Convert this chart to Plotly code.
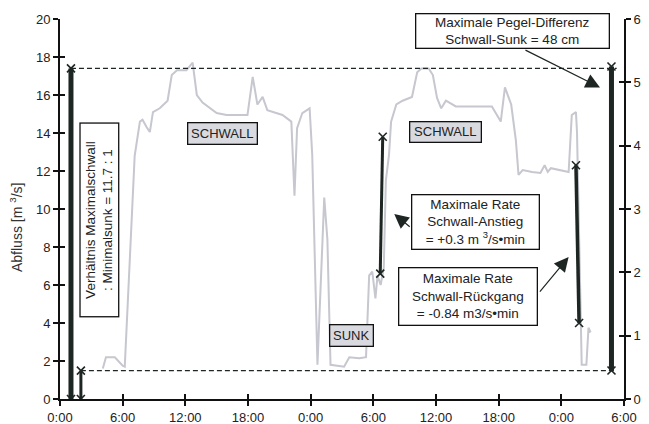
import plotly.graph_objects as go

# ---- data (hours since start, discharge m3/s) ----
hours = [4.1, 4.4, 5.25, 6.0, 6.2, 6.4, 6.9, 7.15, 7.65, 7.9, 8.3, 8.6, 8.9, 9.55, 10.3,
         10.7, 11.2, 12.1, 12.7, 13.1, 13.65, 15.0, 15.95, 17.95, 18.45, 18.9, 19.4, 19.85,
         21.3, 22.15, 22.45, 22.7, 23.2, 23.9, 24.15, 24.65, 25.3, 25.6, 25.9, 27.2, 27.7,
         28.65, 29.3, 29.6, 29.9, 30.2, 30.4, 30.7, 31.0, 31.2, 31.5, 31.7, 32.2, 32.8, 33.7,
         34.2, 34.6, 35.3, 35.7, 36.1, 36.5, 36.95, 37.9, 39.8, 41.35, 42.2, 42.6, 43.2,
         43.65, 43.9, 44.3, 45.2, 46.0, 46.4, 46.7, 47.0, 48.7, 49.0, 49.4, 49.5, 49.7,
         49.85, 49.95, 50.4, 50.6, 50.8]
abfluss = [1.6, 2.2, 2.2, 1.75, 1.7, 4.05, 9.3, 12.8, 14.6, 14.7, 14.3, 14.05, 15.1, 15.3, 15.7,
           17.05, 17.3, 17.3, 17.7, 16.0, 15.6, 15.05, 14.95, 14.95, 16.95, 15.5, 15.9, 15.2,
           14.95, 14.6, 10.7, 14.25, 15.05, 15.3, 12.85, 1.8, 10.6, 8.4, 1.8, 1.7, 2.2,
           2.15, 2.2, 6.5, 6.7, 5.3, 6.5, 6.0, 6.9, 11.5, 12.85, 14.6, 15.5, 15.7, 15.9,
           17.2, 17.4, 17.4, 17.05, 15.85, 15.3, 15.7, 15.4, 15.4, 15.4, 14.6, 16.4, 15.5,
           13.6, 11.8, 12.05, 11.95, 11.9, 12.3, 11.95, 12.15, 11.95, 14.95, 15.1, 14.05, 7.6,
           3.0, 1.8, 1.8, 3.75, 3.5]

tick_hours = [0, 6, 12, 18, 24, 30, 36, 42, 48, 54]
tick_labels = ["0:00", "6:00", "12:00", "18:00", "0:00", "6:00", "12:00", "18:00", "0:00", "6:00"]

max_schwall = 17.4
min_sunk = 1.49
ratio_bar_x = [1.05, 1.05]
ratio_bar_y = [0, max_schwall]
sunk_bar_x = [2.0, 2.0]
sunk_bar_y = [0, min_sunk]
level_line_x = [1.05, 53.3]
sunk_line_x = [2.0, 53.3]
pegel_bar_x = [52.8, 52.8]
pegel_bar_y = [4.5, 52.5]          # right axis (cm)
anstieg_x = [30.66, 30.9]
anstieg_y = [6.6, 13.8]
rueckgang_x = [49.4, 49.7]
rueckgang_y = [12.3, 4.0]

DARK = "#1d2622"
FONT = "Arial, Liberation Sans, sans-serif"

fig = go.Figure()

fig.add_trace(go.Scatter(x=hours, y=abfluss, mode="lines",
                         line=dict(color="#c6c7cf", width=2), showlegend=False))

# dashed reference levels
fig.add_trace(go.Scatter(x=level_line_x, y=[max_schwall, max_schwall], mode="lines",
                         line=dict(color=DARK, width=1.3, dash="5px,3px"), showlegend=False))
fig.add_trace(go.Scatter(x=sunk_line_x, y=[min_sunk, min_sunk], mode="lines",
                         line=dict(color=DARK, width=1.3, dash="5px,3px"), showlegend=False))

xm = dict(symbol="x-thin", size=8, line=dict(color=DARK, width=1.6), color=DARK)
for xs, ys, w, ax in [(ratio_bar_x, ratio_bar_y, 5, "y"),
                      (sunk_bar_x, sunk_bar_y, 3, "y"),
                      (anstieg_x, anstieg_y, 3, "y"),
                      (rueckgang_x, rueckgang_y, 3.5, "y"),
                      (pegel_bar_x, pegel_bar_y, 5, "y2")]:
    fig.add_trace(go.Scatter(x=xs, y=ys, mode="lines+markers", yaxis=ax,
                             line=dict(color=DARK, width=w), marker=xm, showlegend=False))

# dummy traces for the inner tick axes
fig.add_trace(go.Scatter(x=[None], y=[None], xaxis="x2", yaxis="y3", showlegend=False))
fig.add_trace(go.Scatter(x=[None], y=[None], xaxis="x2", yaxis="y4", showlegend=False))

axis_common = dict(showgrid=False, zeroline=False, linecolor="#111", linewidth=2,
                   tickcolor="#111", tickwidth=1.5, ticklen=5, automargin=False)
inner_common = dict(showline=False, ticks="inside", showgrid=False, zeroline=False,
                    showticklabels=False, automargin=False,
                    tickcolor="#111", tickwidth=1.5, ticklen=5, tickmode="array")
tf = dict(family=FONT, size=13, color="#222")

# the page body has an 8px margin, so the margins are offset to compensate
fig.update_layout(
    width=649, height=424,
    margin=dict(l=52, r=33, t=11, b=33, autoexpand=False),
    paper_bgcolor="white", plot_bgcolor="white",
    font=dict(family=FONT, color="#222"),
    xaxis=dict(range=[0, 54], tickmode="array", tickvals=tick_hours, ticktext=tick_labels,
               showline=True, ticks="outside", tickfont=tf, **axis_common),
    xaxis2=dict(range=[0, 54], overlaying="x", anchor="y", side="bottom",
                tickvals=tick_hours, **inner_common),
    yaxis=dict(range=[0, 20], tickmode="array", tickvals=list(range(0, 21, 2)),
               showline=True, ticks="outside", tickfont=tf, **axis_common),
    yaxis2=dict(range=[0, 60], overlaying="y", side="right", anchor="x",
                tickmode="array", tickvals=list(range(0, 61, 10)),
                showline=True, ticks="outside", tickfont=tf, **axis_common),
    yaxis3=dict(range=[0, 20], overlaying="y", side="left", anchor="x",
                tickvals=list(range(0, 21, 2)), **inner_common),
    yaxis4=dict(range=[0, 60], overlaying="y", side="right", anchor="x",
                tickvals=list(range(0, 61, 10)), **inner_common),
)

# y-axis title
fig.add_annotation(text="Abfluss [m <sup>3</sup>/s]", xref="paper", yref="paper",
                   x=-0.078, y=0.45, xanchor="center", yanchor="middle", textangle=-90,
                   showarrow=False, font=dict(family=FONT, size=14, color="#333"))

def box(text, x, y, w, h, bg="white", size=13.5, angle=0):
    fig.add_annotation(x=x, y=y, xref="x", yref="y", text=text, showarrow=False,
                       width=w, height=h, bgcolor=bg, bordercolor="#111",
                       borderwidth=1.3, borderpad=0, textangle=angle,
                       font=dict(family=FONT, size=size, color="#222"), align="center")

box("Maximale Pegel-Differenz<br>Schwall-Sunk = 48 cm", 43.3, 19.35, 192, 33)
box("SCHWALL", 15.55, 13.95, 68, 20, bg="#d9dae0", size=13)
box("SCHWALL", 36.95, 14.03, 70, 19, bg="#d9dae0", size=13)
box("SUNK", 27.9, 3.32, 42, 20, bg="#d9dae0", size=13)
box("Maximale Rate<br>Schwall-Anstieg<br>= +0.3 m <sup>3</sup>/s•min", 39.75, 9.34, 126, 53)
box("Maximale Rate<br>Schwall-Rückgang<br>= -0.84 m3/s•min", 39.1, 5.42, 137, 56)
box("Verhältnis Maximalschwall<br>: Minimalsunk = 11.7 : 1", 3.77, 9.42, 192, 37, angle=-90)

def arrow(x, y, ax, ay):
    fig.add_annotation(x=x, y=y, xref="x", yref="y", text="", showarrow=True,
                       ax=ax, ay=ay, arrowhead=2, arrowsize=2.4, arrowwidth=1.2,
                       arrowcolor=DARK)

arrow(51.7, 16.4, -76, -38)
arrow(32.0, 9.74, 17, 14)
arrow(48.7, 7.47, -30, 36)

fig.write_html("out.html")
